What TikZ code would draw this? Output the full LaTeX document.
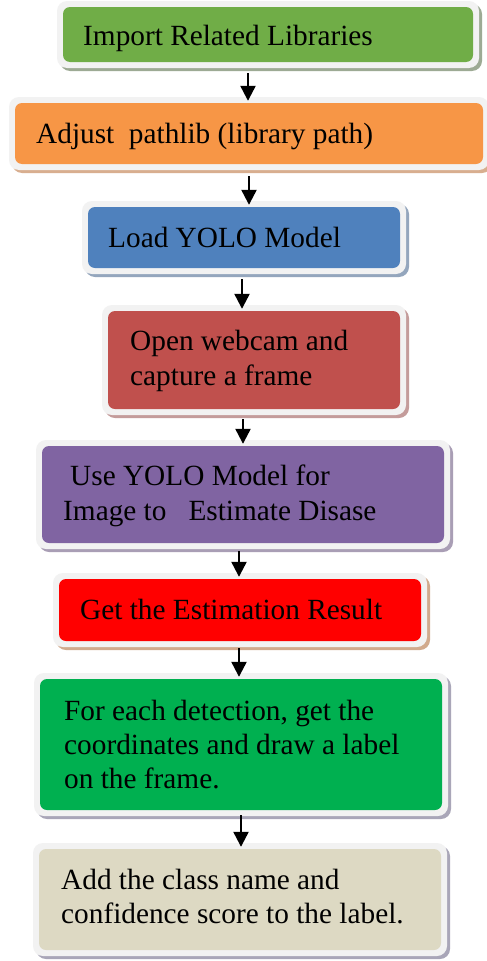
\documentclass[tikz,border=0pt]{standalone}
\usepackage{fontspec}
\setmainfont{Liberation Serif}
\usetikzlibrary{shadows,arrows.meta}
\definecolor{rim}{HTML}{F2F2F2}
\definecolor{c1}{HTML}{70AD47}\definecolor{s1}{HTML}{9DAA94}
\definecolor{c2}{HTML}{F79646}\definecolor{s2}{HTML}{D8AE8F}
\definecolor{c3}{HTML}{4F81BD}\definecolor{s3}{HTML}{94A6BD}
\definecolor{c4}{HTML}{C0504D}\definecolor{s4}{HTML}{C49C9B}
\definecolor{c5}{HTML}{8064A2}\definecolor{s5}{HTML}{A99EB5}
\definecolor{c6}{HTML}{FF0000}\definecolor{s6}{HTML}{D1AA8D}
\definecolor{c7}{HTML}{00B050}\definecolor{s7}{HTML}{A9A6B8}
\definecolor{c8}{HTML}{DDD9C3}\definecolor{s8}{HTML}{A9A6B8}
\tikzset{
  outerbox/.style={fill=rim, rounded corners=10pt, inner sep=0pt, draw=none},
  innerbox/.style={rounded corners=7pt, inner sep=0pt, draw=none},
  lbl/.style={anchor=base west, inner sep=0pt, font=\fontsize{29.3}{34}\selectfont},
  arr/.style={line width=2.3pt, -{Triangle[width=15pt,length=15pt]}, shorten >=-4pt},
}
\newcommand{\flowstep}[7]{%
  \node[outerbox, drop shadow={shadow xshift=3pt, shadow yshift=-3pt, fill=#7, opacity=1},
        minimum width={(#4)-(#2)}, minimum height={(#5)-(#3)}] (#1) at ({((#2)+(#4))/2},{((#3)+(#5))/2}) {};
  \node[innerbox, fill=#6, minimum width={(#4)-(#2)-12}, minimum height={(#5)-(#3)-12}] (#1in) at (#1) {};
}
\begin{document}
\begin{tikzpicture}[x=1pt,y=-1pt]
\useasboundingbox (0,0) rectangle (487,961);
\fill[white] (0,0) rectangle (487,961);
\flowstep{b1}{57}{1}{479}{68}{c1}{s1}
\flowstep{b2}{9}{97}{489}{170}{c2}{s2}
\flowstep{b3}{82}{201}{406}{274}{c3}{s3}
\flowstep{b4}{102}{305}{406}{415}{c4}{s4}
\flowstep{b5}{36}{440}{450}{549}{c5}{s5}
\flowstep{b6}{53}{573}{427}{647}{c6}{s6}
\flowstep{b7}{34}{673}{448}{816}{c7}{s7}
\flowstep{b8}{33}{843}{447}{956}{c8}{s8}

\node[lbl] (t1) at (83,45) {Import Related Libraries};
\node[lbl] (t2) at (36,143) {Adjust~ pathlib (library path)};
\node[lbl] (t3) at (108,247) {Load YOLO Model};
\node[lbl] (t4a) at (130,350) {Open webcam and};
\node[lbl] (t4b) at (130,385) {capture a frame};
\node[lbl] (t5a) at (70,485) {Use YOLO Model for};
\node[lbl] (t5b) at (63,520) {Image to~~ Estimate Disase};
\node[lbl] (t6) at (80,619) {Get the Estimation Result};
\node[lbl] (t7a) at (64,720) {For each detection, get the};
\node[lbl] (t7b) at (64,754) {coordinates and draw a label};
\node[lbl] (t7c) at (64,788) {on the frame.};
\node[lbl] (t8a) at (61,889) {Add the class name and};
\node[lbl] (t8b) at (61,923) {confidence score to the label.};

\coordinate (a1) at (248,73);
\coordinate (a2) at (249,176);
\coordinate (a3) at (242,279);
\coordinate (a4) at (243,419);
\coordinate (a5) at (239,551);
\coordinate (a6) at (239,648);
\coordinate (a7) at (241,815);
\draw[arr] (a1) -- (a1 |- b2.north);
\draw[arr] (a2) -- (a2 |- b3.north);
\draw[arr] (a3) -- (a3 |- b4.north);
\draw[arr] (a4) -- (a4 |- b5.north);
\draw[arr] (a5) -- (a5 |- b6.north);
\draw[arr] (a6) -- (a6 |- b7.north);
\draw[arr] (a7) -- (a7 |- b8.north);
\end{tikzpicture}
\end{document}
